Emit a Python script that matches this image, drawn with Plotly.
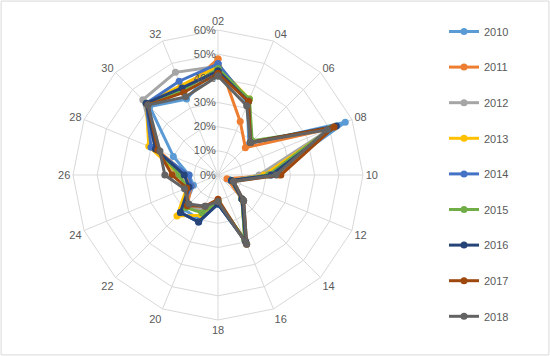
import plotly.graph_objects as go

categories = ["02", "04", "06", "08", "10", "12", "14", "16",
              "18", "20", "22", "24", "26", "28", "30", "32"]

years = ["2010", "2011", "2012", "2013", "2014", "2015", "2016", "2017", "2018"]

v2010 = [46, 32, 18, 57, 22, 5, 14, 29, 12, 20, 20, 11, 12, 20, 40, 34]
v2011 = [48, 24, 16, 50, 25, 4, 14, 30, 11, 16, 18, 12, 13, 27, 41, 38]
v2012 = [45, 33, 19, 51, 17, 6, 14, 30, 11, 15, 19, 13, 17, 28, 44, 46]
v2013 = [45, 34, 19, 52, 19, 6, 14, 29, 11, 18, 24, 14, 16, 31, 42, 40]
v2014 = [46, 33, 19, 51, 21, 6, 15, 29, 12, 21, 22, 12, 12, 30, 42, 42]
v2015 = [44, 34, 20, 50, 21, 6, 14, 29, 11, 17, 19, 14, 16, 27, 42, 38]
v2016 = [43, 33, 19, 53, 22, 6, 14, 30, 12, 21, 22, 13, 14, 28, 42, 39]
v2017 = [42, 33, 19, 52, 26, 7, 15, 31, 10, 14, 18, 14, 19, 27, 41, 37]
v2018 = [41, 31, 19, 49, 24, 7, 15, 31, 11, 14, 17, 15, 22, 26, 41, 35]

series = [v2010, v2011, v2012, v2013, v2014, v2015, v2016, v2017, v2018]
colors = ["#5B9BD5", "#ED7D31", "#A5A5A5", "#FFC000", "#4472C4",
          "#70AD47", "#264478", "#9E480E", "#636363"]

fig = go.Figure()
for name, vals, col in zip(years, series, colors):
    fig.add_trace(go.Scatterpolar(
        r=vals + [vals[0]],
        theta=categories + [categories[0]],
        mode="lines+markers",
        name=name,
        legendgroup=name,
        line=dict(color=col, width=3),
        marker=dict(color=col, size=7),
    ))

W, H = 550, 356
cx, cy, R = 218, 175, 145
fig.update_layout(
    width=W, height=H,
    margin=dict(l=0, r=0, t=0, b=0),
    paper_bgcolor="white",
    font=dict(family="Liberation Sans, Arial, sans-serif", size=11, color="#595959"),
    polar=dict(
        domain=dict(x=[(cx - R) / W, (cx + R) / W],
                    y=[(H - cy - R) / H, (H - cy + R) / H]),
        gridshape="linear",
        bgcolor="white",
        radialaxis=dict(
            range=[0, 60], dtick=10, ticksuffix="%",
            angle=90, tickangle=90, side="counterclockwise",
            showline=False, ticks="",
            gridcolor="#D9D9D9", gridwidth=1,
            tickfont=dict(size=11, color="#595959"),
        ),
        angularaxis=dict(
            direction="clockwise", rotation=90,
            type="category",
            categoryarray=categories,
            linecolor="#D9D9D9", gridcolor="#D9D9D9",
            ticks="",
            tickfont=dict(size=11, color="#595959"),
        ),
    ),
    legend=dict(
        x=444 / W, y=1 - 17 / H, xanchor="left", yanchor="top",
        tracegroupgap=16.6,
        font=dict(size=11, color="#595959"),
        itemwidth=30,
    ),
    showlegend=True,
    shapes=[dict(type="rect", xref="paper", yref="paper",
                 x0=0.002, y0=0.003, x1=0.998, y1=0.997,
                 line=dict(color="#D9D9D9", width=1))],
)

fig.write_html("out.html", config={"displayModeBar": False},
               post_script="document.body.style.margin='0';document.body.style.overflow='hidden';")
